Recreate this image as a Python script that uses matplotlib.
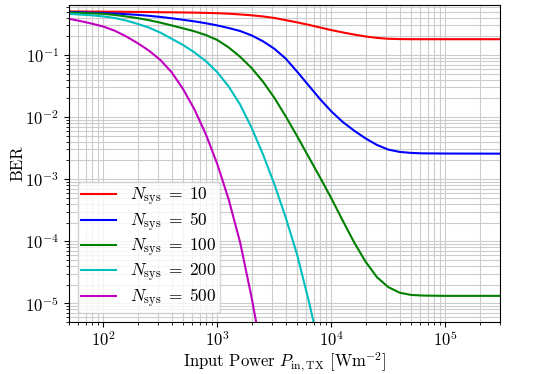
import numpy as np
import matplotlib
matplotlib.use('Agg')
import matplotlib.pyplot as plt

plt.rcParams.update({'font.size': 12,
                     'font.family': 'serif',
                     'font.serif': ['cmr10'],
                     'mathtext.fontset': 'cm',
                     'axes.formatter.use_mathtext': True})

# input power [W/m^2]
P_in = [50, 63, 79, 100, 126, 158, 200, 251, 316, 398, 501, 631, 794, 1000, 1259, 1585,
        1995, 2512, 3162, 3981, 5012, 6310, 7943, 1e4, 12589, 15849, 19953, 25119, 31623,
        39811, 50119, 63096, 1e5, 3e5]

# log10(BER), one list per N_sys
logber_10 = [-0.300, -0.301, -0.302, -0.303, -0.304, -0.306, -0.308, -0.310, -0.312, -0.314,
             -0.316, -0.319, -0.323, -0.328, -0.336, -0.348, -0.362, -0.380, -0.405, -0.440,
             -0.476, -0.515, -0.558, -0.600, -0.638, -0.672, -0.703, -0.726, -0.740, -0.745,
             -0.747, -0.747, -0.747, -0.747]
logber_50 = [-0.310, -0.314, -0.319, -0.325, -0.333, -0.343, -0.355, -0.370, -0.388, -0.410,
             -0.434, -0.460, -0.490, -0.525, -0.567, -0.615, -0.685, -0.78, -0.90, -1.06,
             -1.27, -1.49, -1.71, -1.91, -2.08, -2.22, -2.345, -2.45, -2.525, -2.562,
             -2.578, -2.585, -2.588, -2.59]
logber_100 = [-0.317, -0.323, -0.330, -0.338, -0.356, -0.38, -0.408, -0.44, -0.48, -0.525,
              -0.572, -0.62, -0.68, -0.76, -0.88, -1.03, -1.21, -1.43, -1.69, -1.99,
              -2.31, -2.64, -2.97, -3.31, -3.67, -4.02, -4.33, -4.58, -4.74, -4.83,
              -4.865, -4.875, -4.88, -4.88]
logber_200 = [-0.338, -0.350, -0.362, -0.38, -0.405, -0.445, -0.50, -0.56, -0.64, -0.74,
              -0.84, -0.96, -1.10, -1.28, -1.51, -1.80, -2.17, -2.60, -3.08, -3.62,
              -4.22, -4.95, -5.75, -6.6]
logber_500 = [-0.418, -0.455, -0.495, -0.543, -0.61, -0.70, -0.81, -0.93, -1.08, -1.28,
              -1.55, -1.88, -2.28, -2.76, -3.33, -4.02, -4.90, -5.9]

curves = [(logber_10, 'r', r'$N_{\rm sys}\;=\;10$'),
          (logber_50, 'b', r'$N_{\rm sys}\;=\;50$'),
          (logber_100, 'g', r'$N_{\rm sys}\;=\;100$'),
          (logber_200, 'c', r'$N_{\rm sys}\;=\;200$'),
          (logber_500, 'm', r'$N_{\rm sys}\;=\;500$')]

fig = plt.figure(figsize=(5.56, 3.74), dpi=100)
ax = fig.add_axes([0.124, 0.139, 0.775, 0.848])

for logber, col, lab in curves:
    n = len(logber)
    ax.plot(P_in[:n], 10**np.array(logber), color=col, lw=1.5, label=lab)

ax.set_xscale('log')
ax.set_yscale('log')
ax.set_xlim(50, 3e5)
ax.set_ylim(5e-6, 0.64)
ax.grid(True, which='both', axis='both', color='0.8', lw=0.8)
ax.tick_params(axis='x', which='major', pad=2)
ax.set_xlabel(r'Input Power $P_{\rm in,TX}$ [Wm$^{-2}$]', labelpad=1)
ax.set_ylabel('BER', labelpad=0)
ax.legend(loc='lower left', fontsize=12.5, labelspacing=0.12, borderpad=0.2)

fig.savefig('out.png', dpi=100)
